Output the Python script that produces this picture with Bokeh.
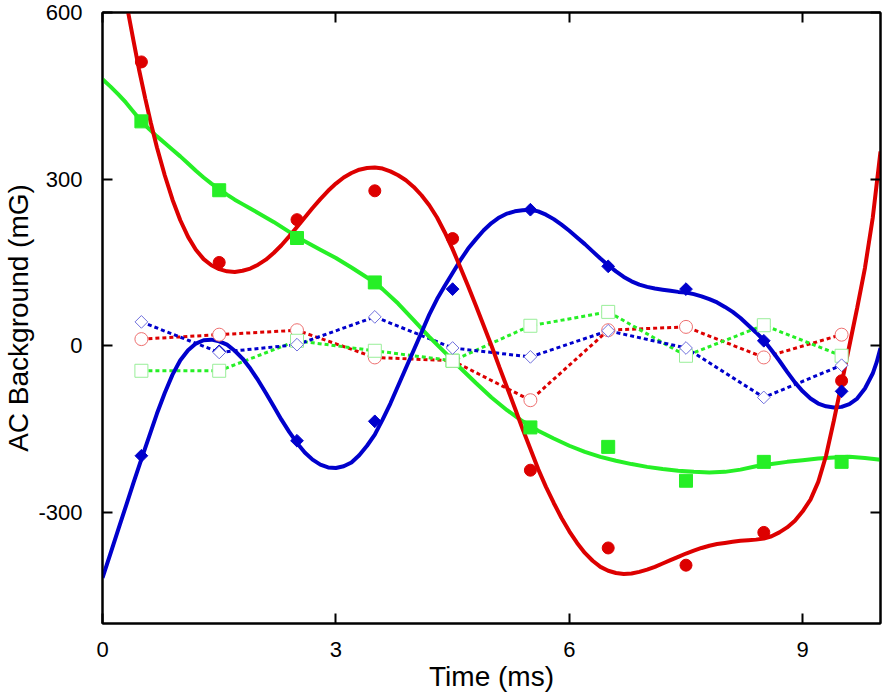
import math
from bokeh.plotting import figure
from bokeh.models import Range1d, FixedTicker, LinearAxis, CustomJSTickFormatter
from bokeh.embed import file_html
from bokeh.resources import INLINE

# ---- data ----
x_pts = [0.5, 1.5, 2.5, 3.5, 4.5, 5.5, 6.5, 7.5, 8.5, 9.5]

red_pts = [511, 150, 227, 279, 193, -224, -364, -395, -336, -63]
green_pts = [404, 280, 194, 114, -27, -147, -182, -243, -209, -209]
blue_pts = [-198, -10, -171, -136, 102, 245, 143, 102, 9, -82]

red_open = [12, 20, 28, -21, -27, -98, 28, 34, -21, 20]
green_open = [-45, -45, 9, -9, -27, 36, 61, -18, 37, -18]
blue_open = [43, -12, 2, 52, -4, -20, 27, -4, -93, -35]

red_fit_x = [0.29, 0.33, 0.40, 0.47, 0.55, 0.62, 0.70, 0.80, 0.90, 1.00, 1.10, 1.20, 1.30,
             1.40, 1.50, 1.60, 1.70, 1.80, 1.90, 2.00, 2.10, 2.20, 2.30, 2.40, 2.50, 2.60,
             2.70, 2.80, 2.90, 3.00, 3.10, 3.20, 3.30, 3.40, 3.50, 3.60, 3.70, 3.80, 3.90,
             4.00, 4.10, 4.20, 4.30, 4.40, 4.50, 4.60, 4.70, 4.80, 4.90, 5.00, 5.10, 5.20,
             5.30, 5.40, 5.50, 5.60, 5.70, 5.80, 5.90, 6.00, 6.10, 6.20, 6.30, 6.40, 6.50,
             6.60, 6.70, 6.80, 6.90, 7.00, 7.10, 7.20, 7.30, 7.40, 7.50, 7.60, 7.70, 7.80,
             7.90, 8.00, 8.10, 8.20, 8.30, 8.40, 8.50, 8.60, 8.70, 8.80, 8.90, 9.00, 9.10,
             9.20, 9.30, 9.40, 9.50, 9.60, 9.70, 9.80, 9.90, 10.00]
red_fit_y = [630, 600, 548, 497, 445, 402, 357, 307, 263, 226, 196, 173, 156,
             145, 138, 134, 133, 135, 139, 146, 155, 167, 181, 197, 214, 231,
             248, 264, 279, 292, 303, 311, 317, 320, 321, 319, 314, 307, 298,
             286, 271, 253, 231, 204, 174, 141, 107, 72, 36, 0, -38, -75,
             -112, -150, -186, -222, -254, -283, -310, -334, -355, -373, -387, -398, -405,
             -409, -411, -410, -407, -403, -398, -392, -386, -380, -374, -369, -364, -360,
             -357, -355, -353, -351, -350, -349, -347, -343, -336, -327, -315, -298, -277,
             -245, -198, -135, -68, 0, 68, 140, 230, 350]

green_fit_x = [0.00, 0.10, 0.20, 0.30, 0.40, 0.50, 0.60, 0.70, 0.80, 0.90, 1.00, 1.10, 1.20,
               1.30, 1.40, 1.50, 1.60, 1.70, 1.80, 1.90, 2.00, 2.20, 2.40, 2.50, 2.60, 2.80,
               3.00, 3.20, 3.40, 3.50, 3.60, 3.80, 4.00, 4.20, 4.40, 4.60, 4.80, 5.00, 5.20,
               5.40, 5.60, 5.80, 6.00, 6.20, 6.40, 6.60, 6.80, 7.00, 7.20, 7.40, 7.60, 7.80,
               8.00, 8.20, 8.40, 8.60, 8.80, 9.00, 9.20, 9.40, 9.60, 9.80, 10.00]
green_fit_y = [480, 467, 453, 438, 421, 404, 390, 377, 365, 353, 341, 328, 315,
               303, 292, 282, 272, 263, 255, 247, 239, 223, 205, 196, 188, 173,
               158, 141, 123, 114, 102, 76, 46, 16, -12, -40, -67, -93, -116,
               -136, -153, -167, -180, -191, -200, -207, -213, -218, -222, -225, -227, -228,
               -227, -223, -217, -213, -209, -206, -203, -201, -200, -202, -205]

blue_fit_x = [0.00, 0.10, 0.20, 0.30, 0.40, 0.50, 0.60, 0.70, 0.80, 0.90, 1.00, 1.10, 1.20,
              1.30, 1.40, 1.50, 1.60, 1.70, 1.80, 1.90, 2.00, 2.10, 2.20, 2.30, 2.40, 2.50,
              2.60, 2.70, 2.80, 2.90, 3.00, 3.10, 3.20, 3.30, 3.40, 3.50, 3.60, 3.70, 3.80,
              3.90, 4.00, 4.10, 4.20, 4.30, 4.40, 4.50, 4.60, 4.70, 4.80, 4.90, 5.00, 5.10,
              5.20, 5.30, 5.40, 5.50, 5.60, 5.70, 5.80, 5.90, 6.00, 6.10, 6.20, 6.30, 6.40,
              6.50, 6.60, 6.70, 6.80, 6.90, 7.00, 7.10, 7.20, 7.30, 7.40, 7.50, 7.60, 7.70,
              7.80, 7.90, 8.00, 8.10, 8.20, 8.30, 8.40, 8.50, 8.60, 8.70, 8.80, 8.90, 9.00,
              9.10, 9.20, 9.30, 9.40, 9.50, 9.60, 9.70, 9.80, 9.90, 9.95, 10.00]
blue_fit_y = [-418, -375, -332, -289, -246, -204, -163, -122, -85, -52, -26, -8, 4,
              10, 11, 8, 2, -9, -23, -41, -62, -85, -109, -133, -155, -175,
              -192, -205, -214, -219, -220, -217, -210, -197, -180, -160, -133, -104, -72,
              -40, -8, 24, 56, 84, 108, 131, 154, 175, 192, 208, 221, 231,
              238, 242, 244, 245, 242, 236, 228, 218, 207, 195, 183, 170, 157,
              145, 134, 124, 116, 110, 106, 103, 101, 99, 97, 96, 93, 89,
              84, 78, 70, 61, 50, 37, 24, 10, -8, -27, -47, -66, -82,
              -95, -104, -109, -111, -110, -105, -95, -77, -50, -30, -4]

x_ticks = [0, 3, 6, 9]
y_ticks = [-300, 0, 300, 600]
y_tick_text = {-300: "-300", 0: "0", 300: "300", 600: "600"}
x_title = "Time (ms)"
y_title = "AC Background (mG)"

RED = "#dd0000"
GREEN = "#26ef26"
BLUE = "#0000cc"
RED_L = "#ee7070"
GREEN_L = "#99ee99"
BLUE_L = "#7070dd"
FONT = "Liberation Sans"

p = figure(width=882, height=697, x_range=Range1d(0, 10), y_range=Range1d(-500, 600),
           output_backend="svg", toolbar_location=None,
           min_border_left=97, min_border_right=2, min_border_top=12, min_border_bottom=74)
p.outline_line_color = "black"
p.outline_line_width = 2
p.xgrid.visible = False
p.ygrid.visible = False
p.background_fill_color = "white"
p.border_fill_color = "white"

def style_axis(ax, ticks, labels=True):
    ax.ticker = FixedTicker(ticks=ticks)
    ax.major_tick_in = 10
    ax.major_tick_out = 0
    ax.minor_tick_in = 0
    ax.minor_tick_out = 0
    ax.minor_tick_line_color = None
    ax.axis_line_color = "black"
    ax.axis_line_width = 2
    ax.major_tick_line_width = 2
    ax.major_tick_line_color = "black"
    ax.major_label_text_font = FONT
    ax.major_label_text_font_size = "22px"
    ax.major_label_text_color = "black"
    if not labels:
        ax.formatter = CustomJSTickFormatter(code="return '';")
        ax.major_label_standoff = 0
        ax.major_label_text_font_size = "0px"

xa = p.xaxis[0]
ya = p.yaxis[0]
style_axis(xa, x_ticks)
style_axis(ya, y_ticks)
ya.major_label_overrides = y_tick_text
xa.major_label_standoff = 18
ya.major_label_standoff = 20
xa.axis_label = x_title
ya.axis_label = y_title
for ax in (xa, ya):
    ax.axis_label_text_font = FONT
    ax.axis_label_text_font_size = "28px"
    ax.axis_label_text_font_style = "normal"
    ax.axis_label_text_color = "black"
    ax.axis_label_standoff = 1

top = LinearAxis()
right = LinearAxis()
style_axis(top, x_ticks, labels=False)
style_axis(right, y_ticks, labels=False)
p.add_layout(top, "above")
p.add_layout(right, "right")

# dotted series
p.line(x_pts, red_open, line_color=RED, line_width=3, line_dash="4 3")
p.line(x_pts, green_open, line_color=GREEN, line_width=3, line_dash="4 3")
p.line(x_pts, blue_open, line_color=BLUE, line_width=3, line_dash="4 3")

# fitted curves
p.line(green_fit_x, green_fit_y, line_color=GREEN, line_width=4)
p.line(blue_fit_x, blue_fit_y, line_color=BLUE, line_width=4)
p.line(red_fit_x, red_fit_y, line_color=RED, line_width=4)

# filled markers
p.scatter(x_pts, red_pts, marker="circle", size=12, fill_color=RED, line_color=RED)
p.scatter(x_pts, green_pts, marker="square", size=13, fill_color=GREEN, line_color=GREEN)
p.scatter(x_pts, blue_pts, marker="square", size=9, angle=math.pi / 4,
          fill_color=BLUE, line_color=BLUE)

# open markers
p.scatter(x_pts, red_open, marker="circle", size=13, fill_color="white",
          line_color=RED_L, line_width=1)
p.scatter(x_pts, green_open, marker="square", size=13, fill_color="white",
          line_color=GREEN_L, line_width=1)
p.scatter(x_pts, blue_open, marker="square", size=9, angle=math.pi / 4,
          fill_color="white", line_color=BLUE_L, line_width=1)

open("out.html", "w").write(file_html(p, INLINE))
